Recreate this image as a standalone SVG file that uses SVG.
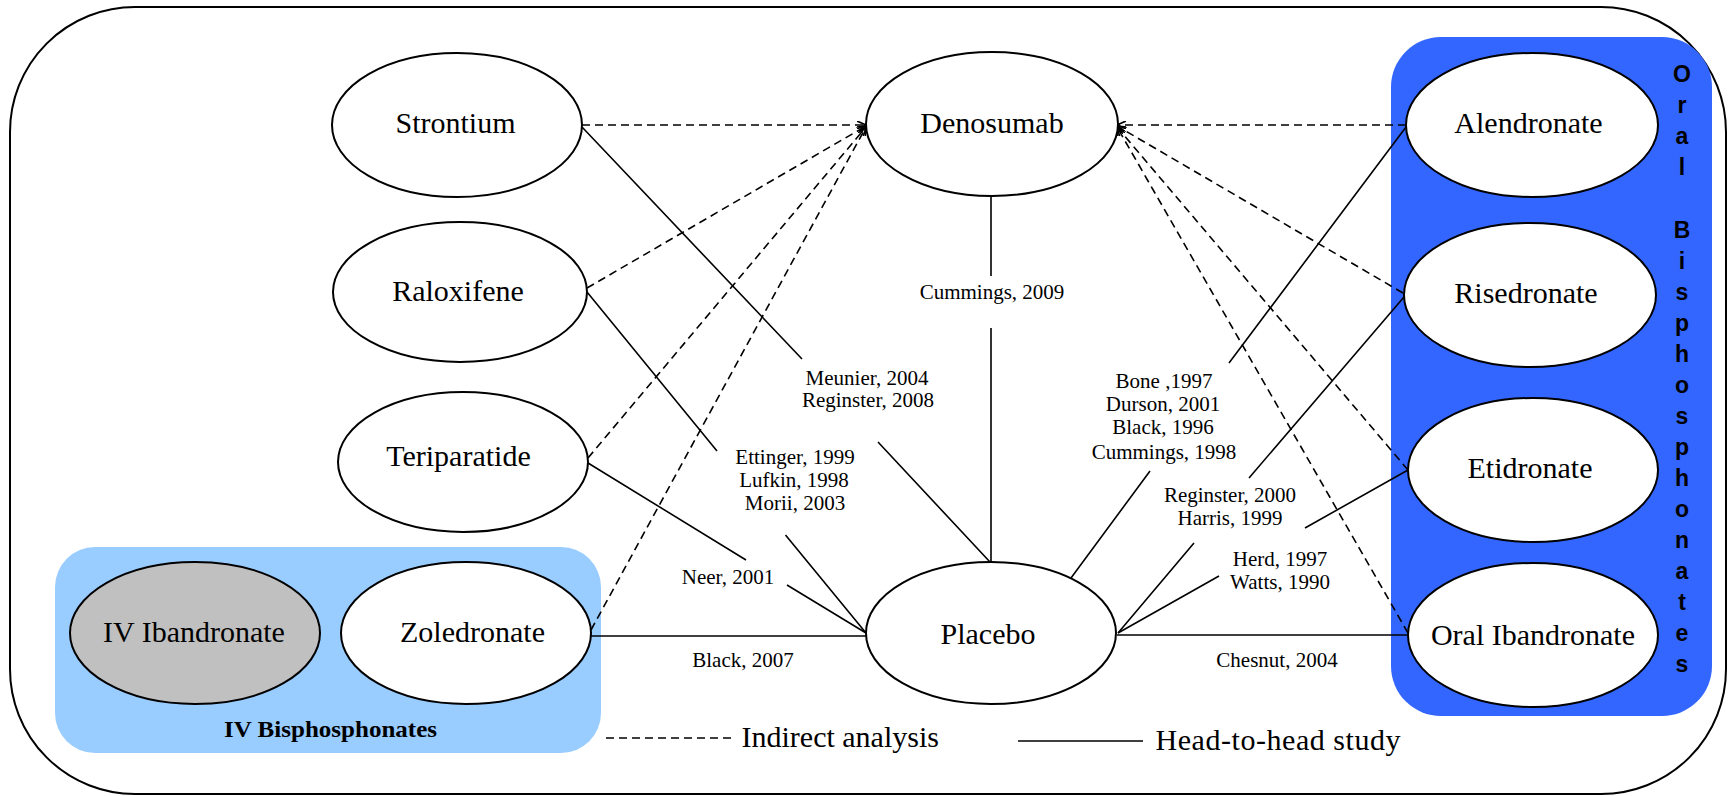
<svg xmlns="http://www.w3.org/2000/svg" width="1728" height="796" viewBox="0 0 1728 796">
<defs>
<style>
.node ellipse{fill:#fff;stroke:#000;stroke-width:2}
.nt{font-family:"Liberation Serif","Times New Roman",serif;font-size:30px;text-anchor:middle;fill:#000}
.lb{font-family:"Liberation Serif","Times New Roman",serif;font-size:21px;text-anchor:middle;fill:#000}
.solid{stroke:#000;stroke-width:1.6;fill:none}
.dash{stroke:#000;stroke-width:1.6;fill:none;stroke-dasharray:8 5}
.vl{font-family:"Liberation Sans",Arial,sans-serif;font-size:23px;font-weight:bold;text-anchor:middle;fill:#000}
</style>
<marker id="arr" markerWidth="10" markerHeight="8" refX="9" refY="4" orient="auto" markerUnits="userSpaceOnUse">
<path d="M0,0 L9,4 L0,8" fill="none" stroke="#000" stroke-width="1.6"/>
</marker>
</defs>
<rect x="0" y="0" width="1728" height="796" fill="#fff"/>
<rect id="frame" x="10" y="7" width="1716" height="787" rx="125" ry="125" fill="none" stroke="#000" stroke-width="2"/>
<g id="oral-group">
<rect x="1391" y="37" width="321" height="679" rx="50" ry="50" fill="#3366FF"/>
<text class="vl"><tspan x="1682" y="82">O</tspan><tspan x="1682" y="113">r</tspan><tspan x="1682" y="144">a</tspan><tspan x="1682" y="175">l</tspan><tspan x="1682" y="238">B</tspan><tspan x="1682" y="269">i</tspan><tspan x="1682" y="300">s</tspan><tspan x="1682" y="331">p</tspan><tspan x="1682" y="362">h</tspan><tspan x="1682" y="393">o</tspan><tspan x="1682" y="424">s</tspan><tspan x="1682" y="455">p</tspan><tspan x="1682" y="486">h</tspan><tspan x="1682" y="517">o</tspan><tspan x="1682" y="548">n</tspan><tspan x="1682" y="579">a</tspan><tspan x="1682" y="610">t</tspan><tspan x="1682" y="641">e</tspan><tspan x="1682" y="672">s</tspan></text>
</g>
<g id="iv-group">
<rect x="55" y="547" width="546" height="206" rx="40" ry="40" fill="#99CCFF"/>
<text x="330.5" y="737" font-family="Liberation Serif,Times New Roman,serif" font-size="23" font-weight="bold" text-anchor="middle" textLength="213" lengthAdjust="spacingAndGlyphs">IV Bisphosphonates</text>
</g>
<g id="connectors">
<line class="dash" x1="582" y1="125" x2="866" y2="125" marker-end="url(#arr)"/>
<line class="dash" x1="587" y1="288" x2="866" y2="126" marker-end="url(#arr)"/>
<line class="dash" x1="588" y1="458" x2="866" y2="127" marker-end="url(#arr)"/>
<line class="dash" x1="591" y1="630" x2="866" y2="127" marker-end="url(#arr)"/>
<line class="dash" x1="1406" y1="125" x2="1117" y2="125" marker-end="url(#arr)"/>
<line class="dash" x1="1403" y1="293" x2="1117" y2="126" marker-end="url(#arr)"/>
<line class="dash" x1="1408" y1="470" x2="1117" y2="127" marker-end="url(#arr)"/>
<line class="dash" x1="1408" y1="633" x2="1117" y2="127" marker-end="url(#arr)"/>
<path class="solid" d="M582,127 L802,359 M878,442 L990,562"/>
<path class="solid" d="M587,292 L717,451 M785.5,535 L866,633"/>
<path class="solid" d="M588,463 L746,560 M787,585 L866,633"/>
<path class="solid" d="M591,636 L866,636"/>
<path class="solid" d="M991,196 L991,276 M991,328 L991,562"/>
<path class="solid" d="M1071,578 L1150,471 M1229,363 L1406,127"/>
<path class="solid" d="M1118,633 L1194,543 M1249,478 L1404,297"/>
<path class="solid" d="M1118,633 L1219,576 M1305,528 L1408,470"/>
<path class="solid" d="M1117,635 L1408,635"/>
<text class="lb" x="992" y="299">Cummings, 2009</text>
<text class="lb" x="867" y="385">Meunier, 2004</text>
<text class="lb" x="868" y="407">Reginster, 2008</text>
<text class="lb" x="795" y="464">Ettinger, 1999</text>
<text class="lb" x="794" y="487">Lufkin, 1998</text>
<text class="lb" x="795" y="510">Morii, 2003</text>
<text class="lb" x="728" y="584">Neer, 2001</text>
<text class="lb" x="743" y="667">Black, 2007</text>
<text class="lb" x="1164" y="388">Bone ,1997</text>
<text class="lb" x="1163" y="411">Durson, 2001</text>
<text class="lb" x="1163" y="434">Black, 1996</text>
<text class="lb" x="1164" y="459">Cummings, 1998</text>
<text class="lb" x="1230" y="502">Reginster, 2000</text>
<text class="lb" x="1230" y="525">Harris, 1999</text>
<text class="lb" x="1280" y="566">Herd, 1997</text>
<text class="lb" x="1280" y="589">Watts, 1990</text>
<text class="lb" x="1277" y="667">Chesnut, 2004</text>
</g>
<g id="n-strontium" class="node"><ellipse cx="457" cy="125" rx="125" ry="72"/><text class="nt" x="455.5" y="133">Strontium</text></g>
<g id="n-denosumab" class="node"><ellipse cx="992" cy="124" rx="126" ry="72"/><text class="nt" x="992" y="133">Denosumab</text></g>
<g id="n-raloxifene" class="node"><ellipse cx="460" cy="292" rx="127" ry="70"/><text class="nt" x="458" y="301">Raloxifene</text></g>
<g id="n-teriparatide" class="node"><ellipse cx="463" cy="462" rx="125" ry="70"/><text class="nt" x="458.5" y="466">Teriparatide</text></g>
<g id="n-ivibandronate" class="node"><ellipse cx="195" cy="633" rx="125" ry="71" style="fill:#C0C0C0"/><text class="nt" x="194" y="642">IV Ibandronate</text></g>
<g id="n-zoledronate" class="node"><ellipse cx="466" cy="633" rx="125" ry="71"/><text class="nt" x="472.5" y="642">Zoledronate</text></g>
<g id="n-placebo" class="node"><ellipse cx="991" cy="633" rx="125" ry="71"/><text class="nt" x="988" y="644">Placebo</text></g>
<g id="n-alendronate" class="node"><ellipse cx="1532" cy="125" rx="126" ry="72"/><text class="nt" x="1528.5" y="133">Alendronate</text></g>
<g id="n-risedronate" class="node"><ellipse cx="1530" cy="295" rx="126" ry="72"/><text class="nt" x="1526" y="303">Risedronate</text></g>
<g id="n-etidronate" class="node"><ellipse cx="1533" cy="470" rx="125" ry="72"/><text class="nt" x="1530" y="478">Etidronate</text></g>
<g id="n-oralibandronate" class="node"><ellipse cx="1533" cy="635" rx="125" ry="72"/><text class="nt" x="1533" y="645">Oral Ibandronate</text></g>
<g id="legend">
<line class="dash" x1="606" y1="738" x2="731" y2="738"/>
<text x="741.5" y="747" font-family="Liberation Serif,Times New Roman,serif" font-size="30">Indirect analysis</text>
<line class="solid" x1="1018" y1="741" x2="1143" y2="741"/>
<text x="1155.5" y="750" font-family="Liberation Serif,Times New Roman,serif" font-size="30" textLength="245">Head-to-head study</text>
</g>
</svg>
